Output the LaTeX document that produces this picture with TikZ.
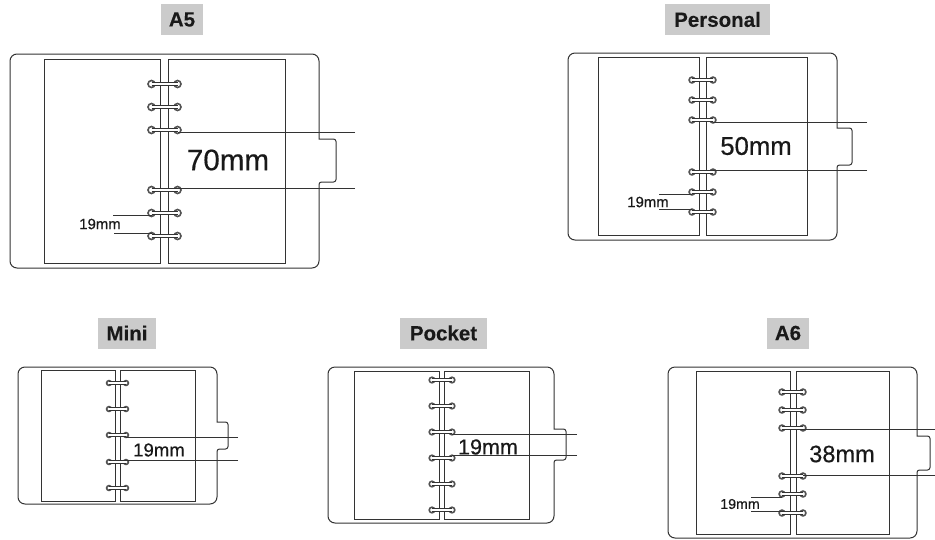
\documentclass[tikz,border=0pt]{standalone}
\usepackage{fontspec}
\setmainfont{Liberation Sans}
\newfontfamily\heavyfont[FakeBold=0.5]{Liberation Sans}
\newfontfamily\tagfont[FakeBold=0.2]{Liberation Sans Bold}
\definecolor{tagfill}{HTML}{CBCBCB}
\definecolor{inkline}{HTML}{333333}
\tikzset{
  coverline/.style={draw=inkline,line width=1pt},
  pageline/.style={draw=inkline,line width=1pt},
  measureline/.style={draw=inkline,line width=0.8pt},
  ringline/.style={draw=inkline,line width=0.9pt},
  eyeline/.style={draw=inkline!85,line width=1.6pt,fill=white},
  sizetag/.style={fill=tagfill,inner sep=0pt,minimum height=31pt,font=\tagfont\fontsize{20.5}{22}\selectfont,text=black!90},
  gaplabel/.style={inner sep=0pt,text=black!90,font=\heavyfont\fontsize{#1}{#1}\selectfont},
}
% x1 y1 x2 y2 tabtop tabbottom tabx
\newcommand{\coverpath}[7]{
  \draw[coverline,rounded corners=7pt] (#1,#2) -- (#3,#2) -- (#3,#5)
    [rounded corners=0pt] -- (#3,#5) [rounded corners=2.5pt] -- (#7,#5) -- (#7,#6)
    -- (#3,#6) [rounded corners=7pt] -- (#3,#4) -- (#1,#4) -- cycle;
}
% prefix xleft xright eye radius, list of index/y
\newcommand{\ringrow}[5]{
  \foreach \i/\y in {#5} {
    \coordinate (#1l\i) at (#2,\y);
    \coordinate (#1r\i) at (#3,\y);
    \draw[eyeline] (#1l\i) circle (#4pt);
    \draw[eyeline] (#1r\i) circle (#4pt);
    \fill[white] ([yshift=-1.2pt]#1l\i) rectangle ([yshift=1.2pt]#1r\i);
    \draw[ringline] ([yshift=-1.7pt]#1l\i) -- ([yshift=-1.7pt]#1r\i);
    \draw[ringline] ([yshift=1.7pt]#1l\i) -- ([yshift=1.7pt]#1r\i);
  }
}
\begin{document}
\begin{tikzpicture}[x=1pt,y=-1pt]
  \useasboundingbox (0,0) rectangle (935,539);

  % A5
  \node[sizetag,minimum width=42pt] (a5tag) at (182,19.5) {A5};
  \coverpath{10}{54}{319}{268}{139}{182}{336}
  \draw[pageline] (44,59) rectangle (160,263);
  \draw[pageline] (168,59) rectangle (285,263);
  \ringrow{a5}{151.5}{177.5}{3.5}{1/84,2/107,3/130,4/190,5/213,6/236}
  \coordinate (a5e1) at (355,132);
  \coordinate (a5e2) at (355,188);
  \coordinate (a5e3) at (113,215.5);
  \coordinate (a5e4) at (114,233.5);
  \draw[measureline] (a5e1) -- (a5e1 -| a5r3);
  \draw[measureline] (a5e2) -- (a5e2 -| a5r4);
  \draw[measureline] (a5e3) -- (a5e3 -| a5l5);
  \draw[measureline] (a5e4) -- (a5e4 -| a5l6);
  \node[gaplabel=29.6] (a5big) at (228,160) {70mm};
  \node[gaplabel=14.9] (a5small) at (100,224) {19mm};

  % Personal
  \node[sizetag,minimum width=105pt] (perstag) at (717.5,19.5) {Personal};
  \coverpath{568}{53}{837}{240}{128}{165}{852}
  \draw[pageline] (598,57) rectangle (699,235);
  \draw[pageline] (706,57) rectangle (807,235);
  \ringrow{pers}{692}{713}{2.9}{1/80,2/100,3/120,4/172,5/192,6/212}
  \coordinate (perse1) at (867,122);
  \coordinate (perse2) at (867,170);
  \coordinate (perse3) at (659,194);
  \coordinate (perse4) at (659,209);
  \draw[measureline] (perse1) -- (perse1 -| persr3);
  \draw[measureline] (perse2) -- (perse2 -| persr4);
  \draw[measureline] (perse3) -- (perse3 -| persl5);
  \draw[measureline] (perse4) -- (perse4 -| persl6);
  \node[gaplabel=25.7] (persbig) at (756,146) {50mm};
  \node[gaplabel=14.9] (perssmall) at (648,202) {19mm};

  % Mini
  \node[sizetag,minimum width=58pt] (minitag) at (127,333) {Mini};
  \coverpath{18}{367}{217}{504}{422}{449}{228}
  \draw[pageline] (41,370) rectangle (115,501);
  \draw[pageline] (120,370) rectangle (195,501);
  \ringrow{mini}{109}{126}{2.4}{1/383,2/409,3/435,4/462,5/488}
  \coordinate (minie1) at (238,437);
  \coordinate (minie2) at (238,460);
  \draw[measureline] (minie1) -- (minie1 -| minir3);
  \draw[measureline] (minie2) -- (minie2 -| minir4);
  \node[gaplabel=18.6] (minibig) at (159,450) {19mm};

  % Pocket
  \node[sizetag,minimum width=87pt] (pocktag) at (443.5,333) {Pocket};
  \coverpath{328}{367}{554}{523}{429}{460}{566}
  \draw[pageline] (354,371) rectangle (439,519);
  \draw[pageline] (444,371) rectangle (529,519);
  \ringrow{pock}{432}{452}{2.8}{1/380,2/406,3/432,4/458,5/484,6/510}
  \coordinate (pocke1) at (577,434);
  \coordinate (pocke2) at (577,455);
  \draw[measureline] (pocke1) -- (pocke1 -| pockr3);
  \draw[measureline] (pocke2) -- (pocke2 -| pockr4);
  \node[gaplabel=21.6] (pockbig) at (488,447) {19mm};

  % A6
  \node[sizetag,minimum width=42pt] (a6tag) at (788,333) {A6};
  \coverpath{668}{367}{917}{538}{436}{470}{930}
  \draw[pageline] (696,371) rectangle (790,534);
  \draw[pageline] (796,371) rectangle (889,534);
  \ringrow{a6}{782}{803}{2.9}{1/392,2/410,3/428,4/476,5/494,6/513}
  \coordinate (a6e1) at (935,429);
  \coordinate (a6e2) at (935,475);
  \coordinate (a6e3) at (751,497);
  \coordinate (a6e4) at (751,511);
  \draw[measureline] (a6e1) -- (a6e1 -| a6r3);
  \draw[measureline] (a6e2) -- (a6e2 -| a6r4);
  \draw[measureline] (a6e3) -- (a6e3 -| a6l5);
  \draw[measureline] (a6e4) -- (a6e4 -| a6l6);
  \node[gaplabel=23.6] (a6big) at (842,454) {38mm};
  \node[gaplabel=14.2] (a6small) at (740,504) {19mm};
\end{tikzpicture}
\end{document}
